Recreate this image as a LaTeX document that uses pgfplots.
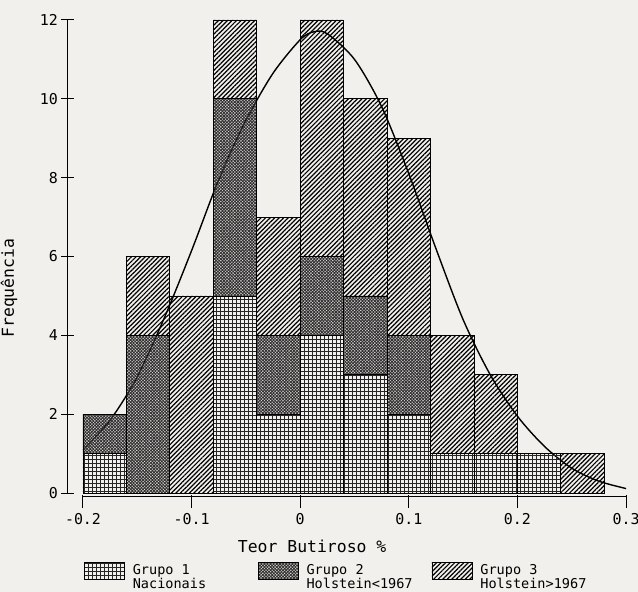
\documentclass[border=0pt]{standalone}
\usepackage{fontspec}
\setmainfont{DejaVu Sans Mono}
\usepackage{pgfplots}
\pgfplotsset{compat=1.18}
\usetikzlibrary{patterns.meta}

\definecolor{paper}{RGB}{242,240,236}

\tikzset{
  g1/.style={draw=black, line width=0.8bp, pattern={Hatch[angle=0,distance=4bp,line width=1bp]}, pattern color=black!85},
  g2/.style={draw=black, line width=0.8bp, pattern={Hatch[angle=45,distance=2.2bp,line width=1bp]}, pattern color=black!80},
  g3/.style={draw=black, line width=0.8bp, pattern={Lines[angle=45,distance=3.2bp,line width=1.2bp]}, pattern color=black},
}
\pgfplotsset{
  legbox/.style={legend image code/.code={\draw[##1] (0bp,-0.5bp) rectangle (40bp,16.5bp);}},
}
\newcommand{\entry}[2]{\hspace*{6bp}\raisebox{10bp}{\begin{tabular}{@{}l@{}}#1\\#2\end{tabular}}}

\begin{document}
\begin{tikzpicture}
% axis box lower-left corner sits at (0,0); page is 638 x 592 bp around it
\useasboundingbox (-83bp,-99bp) rectangle (555bp,493bp);
\fill[paper] (-83bp,-99bp) rectangle (555bp,493bp);
\begin{axis}[
  anchor=south west,
  width=543bp, height=473bp, scale only axis,
  xmin=-0.2, xmax=0.3, ymin=0, ymax=12,
  axis x line=bottom, axis y line=left,
  axis line style={-, line width=1bp},
  axis y line shift=15bp, axis x line shift=3bp,
  ybar stacked, bar width=0.04,
  xtick={-0.2,-0.1,0,0.1,0.2,0.3},
  xticklabels={-0.2,-0.1,0,0.1,0.2,0.3},
  ytick={0,2,4,6,8,10,12},
  yticklabels={0,2,4,6,8,10,12},
  tick align=center, major tick length=13bp,
  tick style={black, line width=1bp},
  xtick style={yshift=-5bp},
  ticklabel style={font=\fontsize{15}{15}\selectfont},
  xticklabel style={yshift=-7bp},
  xlabel={Teor Butiroso \%}, ylabel={Frequência},
  label style={font=\fontsize{16.5}{16.5}\selectfont},
  xlabel style={at={(axis description cs:0.422,-0.112)}, anchor=center},
  ylabel style={at={(axis description cs:-0.136,0.433)}, anchor=center},
  legend style={at={(axis description cs:-0.004,-0.1418)}, anchor=north west,
    legend columns=3, draw=none, fill=none,
    font=\fontsize{13.6}{11.5}\selectfont},
]
\addplot[g1, legbox] coordinates {
  (-0.18,1) (-0.14,0) (-0.10,0) (-0.06,5) (-0.02,2) (0.02,4)
  (0.06,3) (0.10,2) (0.14,1) (0.18,1) (0.22,1) (0.26,0)
};
\addlegendentry{\makebox[129bp][l]{\entry{Grupo 1}{Nacionais}}}
\addplot[g2, legbox] coordinates {
  (-0.18,1) (-0.14,4) (-0.10,0) (-0.06,5) (-0.02,2) (0.02,2)
  (0.06,2) (0.10,2) (0.14,0) (0.18,0) (0.22,0) (0.26,0)
};
\addlegendentry{\makebox[129bp][l]{\entry{Grupo 2}{Holstein<1967}}}
\addplot[g3, legbox] coordinates {
  (-0.18,0) (-0.14,2) (-0.10,5) (-0.06,2) (-0.02,3) (0.02,6)
  (0.06,5) (0.10,5) (0.14,3) (0.18,2) (0.22,0) (0.26,1)
};
\addlegendentry{\entry{Grupo 3}{Holstein>1967}}
\addplot[stack plots=false, smooth, black, line width=1.4bp, mark=none, forget plot] coordinates {
  (-0.2,1.09) (-0.175,1.85) (-0.15,2.95) (-0.125,4.45) (-0.1,6.15)
  (-0.075,7.95) (-0.05,9.45) (-0.025,10.65) (0,11.5) (0.0125,11.7)
  (0.025,11.65) (0.05,11.0) (0.075,9.8) (0.1,8.1) (0.125,6.2)
  (0.15,4.4) (0.175,3.0) (0.2,1.95) (0.225,1.18) (0.25,0.63)
  (0.275,0.3) (0.302,0.1)
};
\end{axis}
\end{tikzpicture}
\end{document}
